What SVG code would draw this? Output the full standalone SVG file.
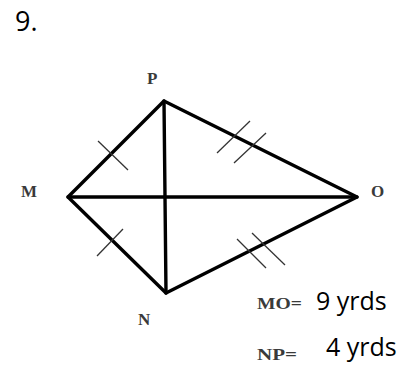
<svg xmlns="http://www.w3.org/2000/svg" width="406" height="366" viewBox="0 0 406 366">
  <style>
    .num { font-family: "Open Sans", "Liberation Sans", sans-serif; fill: #000; }
    .lbl { font-family: "Liberation Serif", "Times New Roman", serif; font-weight: bold; font-size: 17px; fill: #3a3a3a; }
    .edge { stroke: #000; stroke-width: 3.4; stroke-linecap: round; stroke-linejoin: round; fill: none; }
    .tick { stroke: #333; stroke-width: 1.3; fill: none; }
  </style>
  <rect width="406" height="366" fill="#fff"/>
  <text class="num" x="15" y="31" font-size="27">9.</text>

  <g id="connectors">
    <polygon class="edge" points="164,101 357,197 166,293 68,197"/>
    <line class="edge" x1="68" y1="197" x2="357" y2="197"/>
    <line class="edge" x1="164" y1="101" x2="166" y2="293"/>
    <line class="tick" x1="98" y1="141" x2="128" y2="170"/>
    <line class="tick" x1="97" y1="256" x2="123" y2="229"/>
    <line class="tick" x1="217" y1="153" x2="250" y2="121"/>
    <line class="tick" x1="234" y1="163" x2="266" y2="133"/>
    <line class="tick" x1="237" y1="239" x2="266" y2="268"/>
    <line class="tick" x1="252" y1="233" x2="285" y2="265"/>
  </g>

  <g id="node-P"><text class="lbl" x="147" y="84">P</text></g>
  <g id="node-M"><text class="lbl" x="21" y="197">M</text></g>
  <g id="node-O"><text class="lbl" x="371" y="197">O</text></g>
  <g id="node-N"><text class="lbl" x="138" y="325">N</text></g>

  <g id="measure-MO">
    <text class="lbl" x="257" y="309" textLength="45" lengthAdjust="spacingAndGlyphs">MO=</text>
    <text class="num" x="316" y="310" font-size="25">9 yrds</text>
  </g>
  <g id="measure-NP">
    <text class="lbl" x="257" y="360" textLength="40" lengthAdjust="spacingAndGlyphs">NP=</text>
    <text class="num" x="326" y="356" font-size="25">4 yrds</text>
  </g>
</svg>
